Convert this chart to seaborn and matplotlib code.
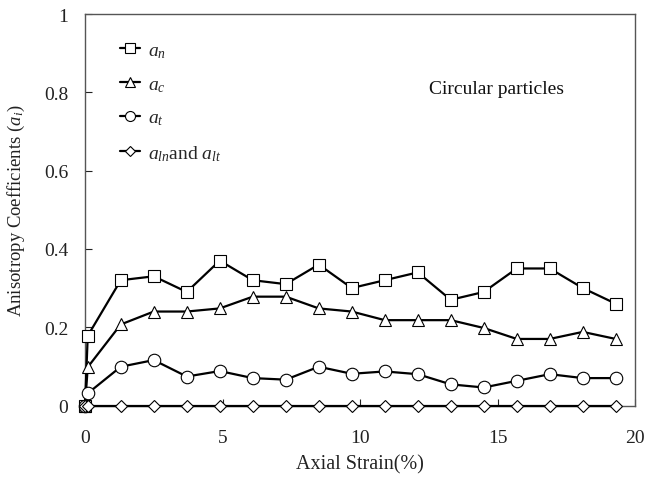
import matplotlib
matplotlib.use("Agg")
import matplotlib.pyplot as plt
import seaborn as sns
import numpy as np
import pandas as pd

strain = [0.0, 0.1, 1.3, 2.5, 3.7, 4.9, 6.1, 7.3, 8.5, 9.7, 10.9, 12.1, 13.3, 14.5, 15.7, 16.9, 18.1, 19.3]
a_n = [0.0, 0.178, 0.32, 0.33, 0.29, 0.37, 0.32, 0.31, 0.36, 0.30, 0.32, 0.34, 0.27, 0.29, 0.35, 0.35, 0.30, 0.26]
a_c = [0.0, 0.098, 0.207, 0.24, 0.24, 0.248, 0.278, 0.278, 0.248, 0.24, 0.218, 0.218, 0.218, 0.198, 0.17, 0.17, 0.188, 0.17]
a_t = [0.0, 0.031, 0.099, 0.116, 0.074, 0.088, 0.07, 0.066, 0.099, 0.081, 0.087, 0.08, 0.054, 0.046, 0.063, 0.08, 0.07, 0.07]
a_lnlt = [0.0] * 18

series_labels = [r"$a_n$", r"$a_c$", r"$a_t$", r"$a_{ln}$and $a_{lt}$"]
markers = ["s", "^", "o", "D"]
msizes = [9, 9, 9, 6.5]

sns.set_theme(style="white")
plt.rcParams["font.family"] = ["Liberation Serif", "DejaVu Serif"]
plt.rcParams["mathtext.fontset"] = "custom"
plt.rcParams["mathtext.rm"] = "Liberation Serif"
plt.rcParams["mathtext.it"] = "Liberation Serif:italic"

fig = plt.figure(figsize=(6.46, 4.81), dpi=100)
ax = fig.add_axes([85 / 646, 1 - 406.5 / 481, 550 / 646, 391.5 / 481])

for vals, lab, mk, ms in zip([a_n, a_c, a_t, a_lnlt], series_labels, markers, msizes):
    df = pd.DataFrame({"x": strain, "y": vals})
    sns.lineplot(data=df, x="x", y="y", ax=ax, color="black", linewidth=1.6,
                 marker=mk, markersize=ms, markerfacecolor="white",
                 markeredgecolor="black", markeredgewidth=0.8, label=lab,
                 sort=False, estimator=None, zorder=3, clip_on=False)

ax.set_xlim(0, 20)
ax.set_ylim(0, 1)
ax.set_xticks([0, 5, 10, 15, 20])
ax.set_xticklabels(["0", "5", "10", "15", "20"])
ax.set_yticks([0, 0.2, 0.4, 0.6, 0.8, 1.0])
ax.set_yticklabels(["0", "0.2", "0.4", "0.6", "0.8", "1"])
ax.tick_params(direction="in", length=5, width=0.8, labelsize=14, colors="#222222",
               bottom=True, left=True)
ax.tick_params(axis="x", pad=17)
ax.tick_params(axis="y", pad=12)
for s in ax.spines.values():
    s.set_color("#555555")
    s.set_linewidth(1.0)
ax.set_xlabel("Axial Strain(%)", fontsize=14.5, color="#222222", labelpad=6)
ax.set_ylabel(r"Anisotropy Coefficients ($a_i$)", fontsize=13.5, color="#222222", labelpad=12)

ax.text(0.625, 0.797, "Circular particles", transform=ax.transAxes, fontsize=14,
        color="#111111")

leg = ax.legend(loc="upper left", bbox_to_anchor=(0.05, 0.95), frameon=False,
                handlelength=1.0, handletextpad=0.45, labelspacing=0.8, fontsize=14,
                borderaxespad=0, markerscale=0.8)

fig.savefig("out.png", dpi=100)
